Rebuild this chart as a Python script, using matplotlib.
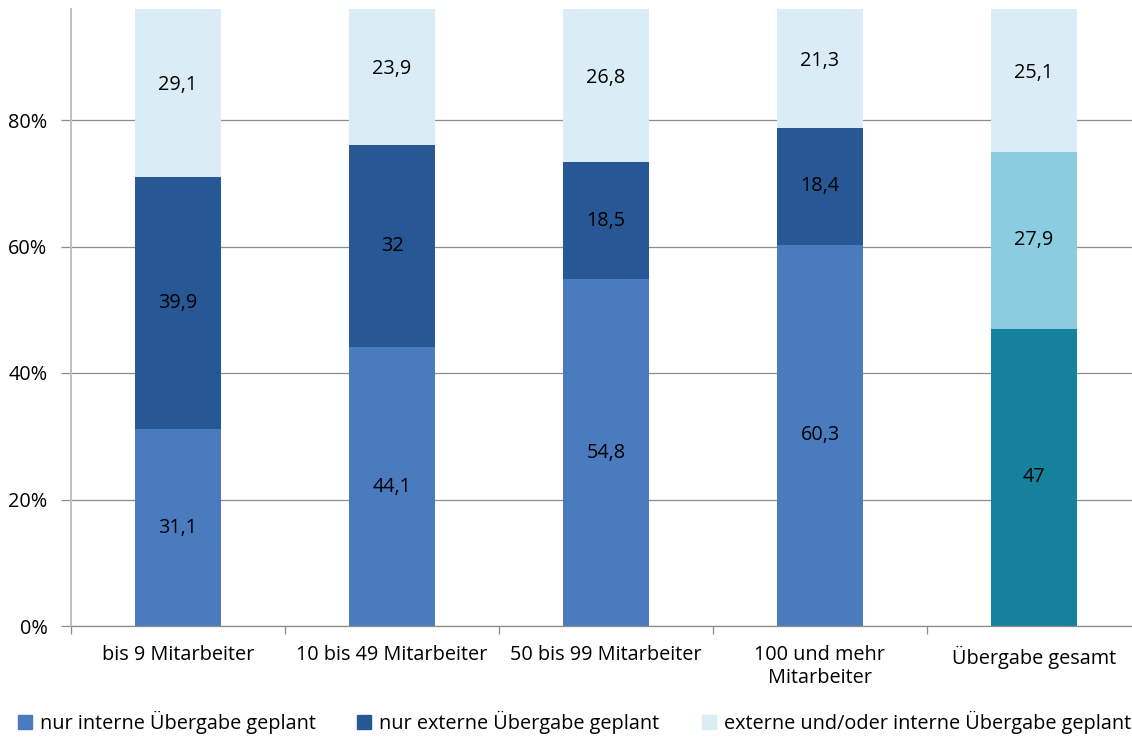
import matplotlib
matplotlib.use("Agg")
import matplotlib.pyplot as plt
from matplotlib.patches import Patch
import numpy as np

categories = ["bis 9 Mitarbeiter", "10 bis 49 Mitarbeiter", "50 bis 99 Mitarbeiter",
              "100 und mehr\nMitarbeiter", "Übergabe gesamt"]
series_names = ["nur interne Übergabe geplant", "nur externe Übergabe geplant",
                "externe und/oder interne Übergabe geplant"]
nur_intern = [31.1, 44.1, 54.8, 60.3, 47]
nur_extern = [39.9, 32, 18.5, 18.4, 27.9]
ext_oder_int = [29.1, 23.9, 26.8, 21.3, 25.1]
label_texts = [["31,1", "44,1", "54,8", "60,3", "47"],
               ["39,9", "32", "18,5", "18,4", "27,9"],
               ["29,1", "23,9", "26,8", "21,3", "25,1"]]
yticks = [0, 20, 40, 60, 80]
ytick_labels = ["0%", "20%", "40%", "60%", "80%"]

c1 = ["#4a7bbe"] * 4 + ["#16819c"]
c2 = ["#275795"] * 4 + ["#8acde0"]
c3 = ["#daedf6"] * 5

plt.rcParams['font.family'] = ['Open Sans', 'DejaVu Sans']
fs = 14.3

W, H = 1132, 738
fig = plt.figure(figsize=(W / 100, H / 100), dpi=100)
ax = fig.add_axes([71 / W, (H - 626) / H, (1141 - 71) / W, (626 - 9) / H])

x = np.arange(len(categories))
width = 0.40
series = [nur_intern, nur_extern, ext_oder_int]
colors = [c1, c2, c3]
bottom = np.zeros(len(categories))
handles = []
for i, (vals, col) in enumerate(zip(series, colors)):
    vals = np.array(vals, dtype=float)
    bars = ax.bar(x, vals, width, bottom=bottom, color=col, zorder=2, linewidth=0)
    for j, b in enumerate(bars):
        ax.text(x[j], bottom[j] + vals[j] / 2, label_texts[i][j], ha="center", va="center",
                fontsize=fs, color="black", zorder=3)
    handles.append(Patch(color=col[0]))
    bottom += vals

ax.set_xlim(-0.5, len(categories) - 0.5)
ax.set_ylim(0, 617 / 6.325)
ax.set_yticks(yticks)
ax.set_yticklabels(ytick_labels, fontsize=fs)
ax.yaxis.grid(True, color="#8c8c8c", linewidth=0.9, zorder=0)
ax.set_axisbelow(True)
ax.tick_params(axis="y", length=7, color="#8c8c8c", width=0.9, pad=10)

ax.set_xticks(x)
ax.set_xticklabels(categories, fontsize=fs, linespacing=1.2)
ax.set_xticks(np.arange(len(categories) + 1) - 0.5, minor=True)
ax.tick_params(axis="x", which="major", length=0, pad=14)
ax.tick_params(axis="x", which="minor", length=6, color="#8c8c8c", width=0.9)

for s in ["top", "right"]:
    ax.spines[s].set_visible(False)
ax.spines["left"].set_color("#c0c0c0")
ax.spines["left"].set_linewidth(1.4)
ax.spines["bottom"].set_color("#8c8c8c")
ax.spines["bottom"].set_linewidth(0.9)
ax.spines["bottom"].set_zorder(3)

legend_x = [18, 357, 702]
for hx, h, name in zip(legend_x, handles, series_names):
    fig.legend([h], [name], loc="center left", bbox_to_anchor=(hx / W, 1 - 722 / H),
               frameon=False, fontsize=fs, handlelength=0.7, handleheight=0.7,
               handletextpad=0.4, borderpad=0, borderaxespad=0)

fig.savefig("out.png", dpi=100)
